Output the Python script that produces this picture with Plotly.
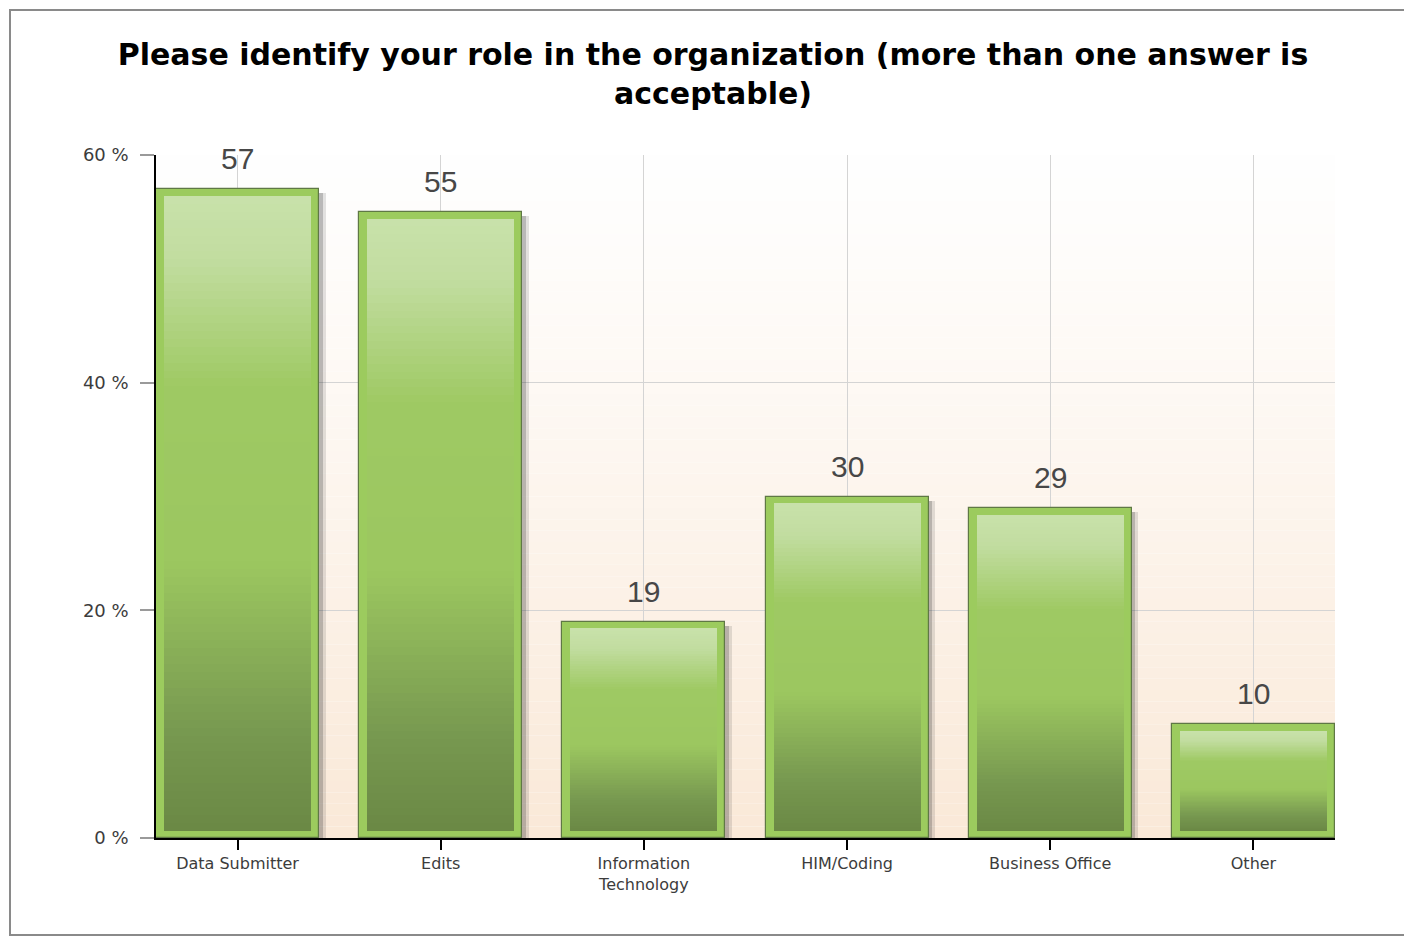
import plotly.graph_objects as go

# ---- data ----
categories = ["Data Submitter", "Edits", "Information<br>Technology", "HIM/Coding", "Business Office", "Other"]
values = [57, 55, 19, 30, 29, 10]
tick_vals = [0, 20, 40, 60]
tick_text = ["0 %", "20 %", "40 %", "60 %"]
title_text = "Please identify your role in the organization (more than one answer is<br>acceptable)"

# ---- style ----
PAGE_OFF = 8  # default body margin of the html page
W, H = 1412 - PAGE_OFF, 937 - PAGE_OFF
ML, MR, MT, MB = 156 - PAGE_OFF, 77, 155 - PAGE_OFF, 99
plot_w = W - ML - MR
plot_h = H - MT - MB
y_max = 60
px_per_unit = plot_h / y_max
cat_step_px = plot_w / 5.803
bar_w = 163.0 / cat_step_px
inner_w = (163.0 - 16.0) / cat_step_px
inset = 7.0 / px_per_unit


def hex2rgb(h):
    h = h.lstrip("#")
    return tuple(int(h[i:i + 2], 16) for i in (0, 2, 4))


def interp(stops, t):
    for (t0, c0), (t1, c1) in zip(stops[:-1], stops[1:]):
        if t0 <= t <= t1:
            a = 0 if t1 == t0 else (t - t0) / (t1 - t0)
            r0, g0, b0 = hex2rgb(c0)
            r1, g1, b1 = hex2rgb(c1)
            return "rgb(%d,%d,%d)" % (r0 + (r1 - r0) * a, g0 + (g1 - g0) * a, b0 + (b1 - b0) * a)
    return stops[-1][1]


# gradient stops from top (0) to bottom (1)
bar_stops = [(0.0, "#C9E2AB"), (0.10, "#C2DDA0"), (0.30, "#9FCA64"), (0.58, "#9CC760"),
             (0.85, "#779850"), (1.0, "#6B8945")]
bg_stops = [(0.0, "#FFFFFF"), (0.35, "#FEF9F4"), (1.0, "#FAE9D8")]

fig = go.Figure()

# soft shadow (two layers)
for dx, alpha in [(6.5, 0.13), (3.5, 0.22)]:
    fig.add_trace(go.Bar(
        x=categories, y=[v - 4.0 / px_per_unit + 1 for v in values], base=[-1] * len(values),
        width=bar_w, offset=-bar_w / 2 + dx / cat_step_px,
        marker=dict(color="rgba(40,40,40,%.2f)" % alpha, line=dict(width=0)),
        hoverinfo="skip", showlegend=False))

# outer bar (border green)
fig.add_trace(go.Bar(
    x=categories, y=values, width=bar_w,
    marker=dict(color="#9CCB5E", line=dict(color="#5F7845", width=1.2)),
    hoverinfo="skip", showlegend=False))

# inner gradient built from stacked slices of each value
N = 80
for i in range(N):
    f0 = i / N
    f1 = (i + 1) / N
    tops = [v - inset for v in values]
    bases = [t - (t - inset) * f1 for t in tops]
    heights = [(t - inset) * (f1 - f0) + 0.02 for t in tops]
    fig.add_trace(go.Bar(
        x=categories, y=heights, base=bases, width=inner_w,
        marker=dict(color=interp(bar_stops, (f0 + f1) / 2), line=dict(width=0)),
        hoverinfo="skip", showlegend=False))

# value labels
for c, v in zip(categories, values):
    fig.add_annotation(x=c, y=v, text=str(v), showarrow=False, yanchor="bottom", yshift=12,
                       font=dict(family="Liberation Sans, Arial", size=30, color="#474747"))

# background gradient inside plot area
M = 60
for i in range(M):
    fig.add_shape(type="rect", xref="x domain", yref="y domain",
                  x0=0, x1=1, y0=1 - (i + 1) / M, y1=1 - i / M,
                  fillcolor=interp(bg_stops, (i + 0.5) / M), line=dict(width=0), layer="below")

# outer figure border
bx0 = (10 - PAGE_OFF - ML) / plot_w
bx1 = (1430 - PAGE_OFF - ML) / plot_w
by1 = (H - MB - (10 - PAGE_OFF)) / plot_h
by0 = (H - MB - (935 - PAGE_OFF)) / plot_h
fig.add_shape(type="rect", xref="paper", yref="paper", x0=bx0, x1=bx1, y0=by0, y1=by1,
              line=dict(color="#8A8A8A", width=2), fillcolor="rgba(0,0,0,0)", layer="below")

fig.update_layout(
    width=W, height=H,
    margin=dict(l=ML, r=MR, t=MT, b=MB),
    paper_bgcolor="white", plot_bgcolor="white",
    barmode="overlay", bargap=0,
    title=dict(text="<b>" + title_text + "</b>", x=(713 - PAGE_OFF) / W, xanchor="center", xref="container",
               y=1 - 57.0 / H, yanchor="top", yref="container",
               font=dict(family="DejaVu Sans", size=30, color="#000000")),
    xaxis=dict(
        type="category", range=[-bar_w / 2, len(categories) - 1 + bar_w / 2],
        showgrid=True, gridcolor="#D4D4D4", gridwidth=1,
        showline=True, linecolor="#000000", linewidth=1.5,
        ticks="outside", ticklen=10, tickcolor="#000000", tickwidth=2,
        tickfont=dict(family="DejaVu Sans", size=16, color="#3C3C3C"),
        zeroline=False, fixedrange=True),
    yaxis=dict(
        range=[0, y_max], tickvals=tick_vals, ticktext=tick_text,
        showgrid=True, gridcolor="#D4D4D4", gridwidth=1,
        showline=True, linecolor="#000000", linewidth=1.5,
        ticks="outside", ticklen=14, tickcolor="#9A9A9A", tickwidth=1.5,
        ticklabelstandoff=8,
        tickfont=dict(family="DejaVu Sans", size=18, color="#3C3C3C"),
        zeroline=False, fixedrange=True),
    showlegend=False,
)

fig.write_html("out.html")
